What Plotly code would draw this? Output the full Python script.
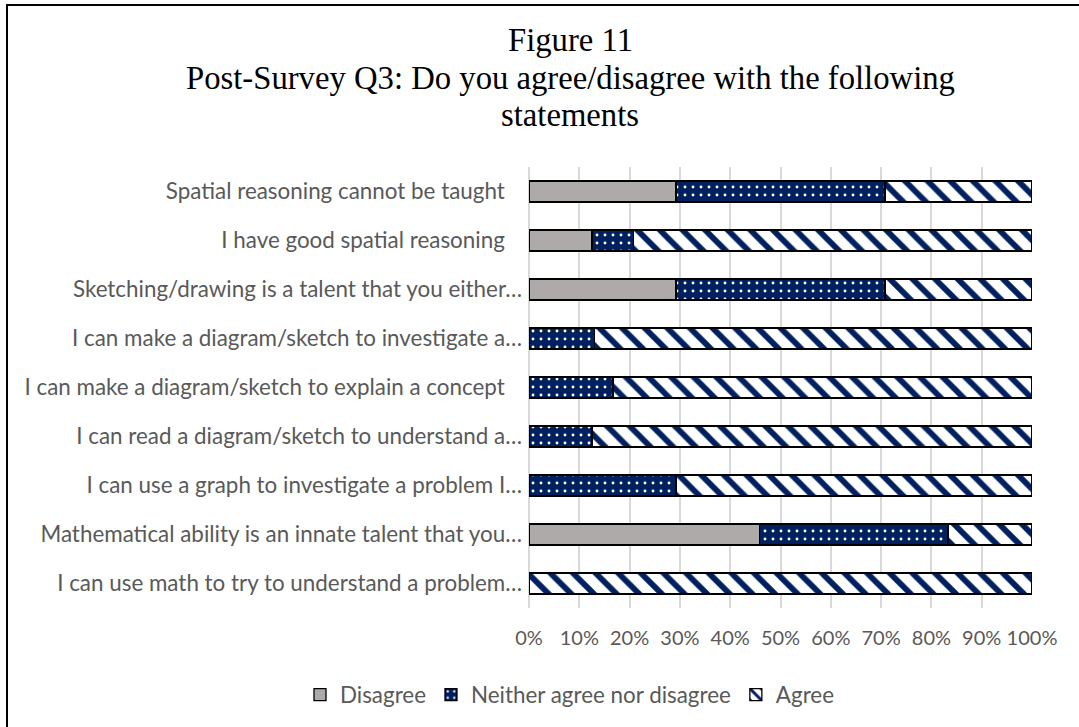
import plotly.graph_objects as go

categories = [
    "Spatial reasoning cannot be taught\u00a0\u00a0\u00a0",
    "I have good spatial reasoning\u00a0\u00a0\u00a0",
    "Sketching/drawing is a talent that you either…",
    "I can make a diagram/sketch to investigate a…",
    "I can make a diagram/sketch to explain a concept\u00a0\u00a0\u00a0",
    "I can read a diagram/sketch to understand a…",
    "I can use a graph to investigate a problem I…",
    "Mathematical ability is an innate talent that you…",
    "I can use math to try to understand a problem…",
]
disagree = [29.2, 12.5, 29.2, 0, 0, 0, 0, 45.8, 0]
neither = [41.6, 8.3, 41.6, 13.0, 16.7, 12.5, 29.2, 37.5, 0]
agree = [29.2, 79.2, 29.2, 87.0, 83.3, 87.5, 70.8, 16.7, 100]

title_lines = ["Figure 11",
               "Post-Survey Q3: Do you agree/disagree with the following",
               "statements"]

NAVY = "#002060"
GRAY = "#AEAAAA"
TXT = "#595959"
FONT = "Lato"
FS = 22.4

W, H = 1079, 727
L, R, T, B = 529, 47, 167, 119
PW, PH = W - L - R, H - T - B


def px_x(px):
    return (px - L) / PW


def px_y(py):
    return (H - B - py) / PH


fig = go.Figure()
fig.add_trace(go.Bar(
    y=categories, x=disagree, orientation="h", name="Disagree",
    marker=dict(color=GRAY, line=dict(color="black", width=1.3)),
))
fig.add_trace(go.Bar(
    y=categories, x=neither, orientation="h", name="Neither agree nor disagree",
    marker=dict(color=NAVY, line=dict(color="black", width=1.3),
                pattern=dict(shape=".", bgcolor=NAVY, fgcolor="white",
                             size=8, solidity=0.1, fillmode="replace")),
))
fig.add_trace(go.Bar(
    y=categories, x=agree, orientation="h", name="Agree",
    marker=dict(color="white", line=dict(color="black", width=1.3),
                pattern=dict(shape="\\", bgcolor="white", fgcolor=NAVY,
                             size=16, solidity=0.36, fillmode="replace")),
))

annotations = []
for txt, py in zip(title_lines, [40, 78, 115]):
    annotations.append(dict(
        text=txt, x=px_x(570), y=px_y(py), xref="paper", yref="paper",
        xanchor="center", yanchor="middle", showarrow=False,
        font=dict(family="Liberation Serif", size=32.7, color="black"),
    ))

fig.update_layout(
    width=W, height=H,
    margin=dict(l=L, r=R, t=T, b=B, pad=0, autoexpand=False),
    paper_bgcolor="white", plot_bgcolor="white",
    barmode="stack", bargap=0.57,
    font=dict(family=FONT, size=FS, color=TXT),
    showlegend=True,
    legend=dict(orientation="h", xref="paper", yref="paper",
                x=px_x(300), xanchor="left",
                y=px_y(695), yanchor="middle", traceorder="normal",
                font=dict(family=FONT, size=FS, color=TXT), itemwidth=30,
                bgcolor="rgba(0,0,0,0)"),
    annotations=annotations,
    shapes=[dict(type="rect", xref="paper", yref="paper",
                 x0=px_x(7), x1=px_x(1140), y0=px_y(760), y1=px_y(5),
                 line=dict(color="black", width=2), fillcolor="rgba(0,0,0,0)",
                 layer="below")],
)
fig.update_xaxes(range=[0, 100], dtick=10, tick0=0, ticksuffix="%",
                 tickangle=0,
                 showgrid=True, gridcolor="#D9D9D9", gridwidth=1.5,
                 zeroline=True, zerolinecolor="#D9D9D9", zerolinewidth=1.5,
                 showline=False, ticks="", ticklabelstandoff=16,
                 tickfont=dict(family=FONT, size=20, color=TXT))
fig.update_yaxes(type="category", autorange="reversed", showgrid=False,
                 zeroline=False, showline=False, ticks="", ticklabelstandoff=6,
                 tickfont=dict(family=FONT, size=FS, color=TXT))

fig.write_html("out.html")
